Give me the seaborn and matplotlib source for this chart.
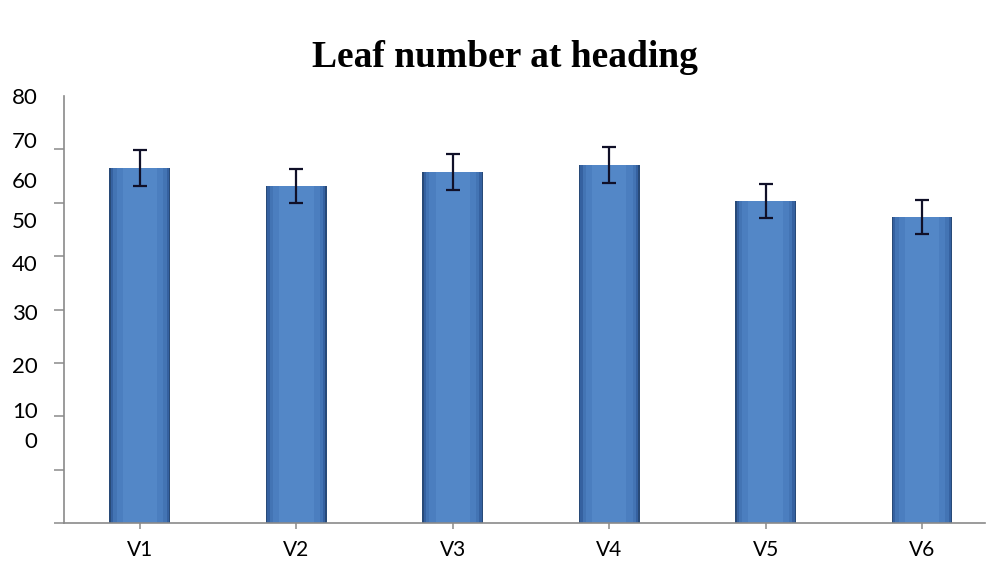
import matplotlib
matplotlib.use("Agg")
import matplotlib.pyplot as plt
import seaborn as sns
import numpy as np
import pandas as pd

# ---- data ----
categories = ["V1", "V2", "V3", "V4", "V5", "V6"]
leaf_number = [66.5, 63.1, 65.8, 67.1, 60.3, 57.3]
error = [3.4, 3.2, 3.4, 3.4, 3.2, 3.2]
ytick_labels = ["80", "70", "60", "50", "40", "30", "20", "10", "0"]
# positions (data units) where the reference prints its y labels
ytick_label_pos = [80.0, 71.8, 64.3, 56.8, 48.7, 39.5, 29.6, 21.2, 15.6]
ytick_marks = [0, 10, 20, 30, 40, 50, 60, 70, 80]

df = pd.DataFrame({"variety": categories, "leaves": leaf_number})

sns.set_theme(style="white")
plt.rcParams["font.family"] = ["Lato", "DejaVu Sans"]
plt.rcParams["text.color"] = "black"

fig = plt.figure(figsize=(9.92, 5.63), dpi=100)
ax = fig.add_axes([0.0645, 0.0710, 0.928, 0.7584])

# bevelled look: dark outer bar, lighter narrower bars on top
shades = [(0.39, "#284A78"), (0.37, "#3561A0"), (0.34, "#4374B4"),
          (0.30, "#4B7EBF"), (0.22, "#5387C7")]
for w, c in shades:
    sns.barplot(data=df, x="variety", y="leaves", ax=ax, width=w,
                color=c, linewidth=0, saturation=1, errorbar=None)

x = np.arange(len(categories))
ax.errorbar(x, leaf_number, yerr=error, fmt="none", ecolor="#101028",
            elinewidth=1.6, capsize=5, capthick=1.6, zorder=5)

ax.set_xlim(-0.486, 5.40)
ax.set_ylim(0, 80)
ax.set_xlabel("")
ax.set_ylabel("")

# y labels at their printed positions, tick marks at the grid values
ax.set_yticks(ytick_label_pos)
ax.set_yticklabels(ytick_labels)
ax.set_yticks(ytick_marks, minor=True)
ax.tick_params(axis="y", which="major", length=0, pad=19, labelsize=16, labelcolor="black")
ax.tick_params(axis="y", which="minor", length=7, width=1.1, color="#8a8a8a", direction="out", left=True)
ax.tick_params(axis="x", which="major", length=4, width=1.1, color="#8a8a8a", direction="out",
               bottom=True, pad=8, labelsize=15, labelcolor="black")

for side in ["top", "right"]:
    ax.spines[side].set_visible(False)
for side in ["left", "bottom"]:
    ax.spines[side].set_color("#8a8a8a")
    ax.spines[side].set_linewidth(1.2)
ax.grid(False)

fig.text(505 / 992, 1 - 58 / 563, "Leaf number at heading", ha="center", va="center",
         fontsize=27, fontweight="bold", color="black",
         family=["Liberation Serif", "DejaVu Serif"])

fig.savefig("out.png", dpi=100)
